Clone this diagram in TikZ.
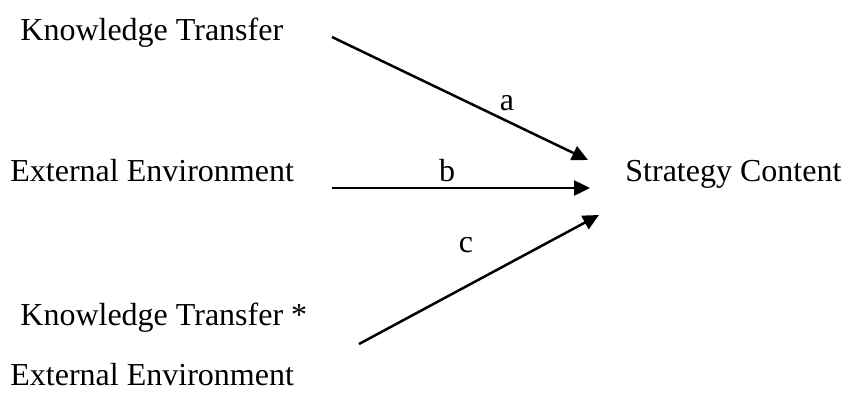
\documentclass[tikz,border=0pt]{standalone}
\usepackage{fontspec}
\setmainfont{Liberation Serif}
\usetikzlibrary{arrows.meta, positioning}
\tikzset{
  varlabel/.style={anchor=base west, inner sep=0pt, font=\fontsize{16}{19}\selectfont},
  pathlabel/.style={anchor=base, inner sep=0pt, font=\fontsize{16}{19}\selectfont},
  effect/.style={line width=1.25pt, -{Triangle[length=8pt, width=7.5pt]}}
}

\begin{document}
\begin{tikzpicture}[x=0.5pt, y=-0.5pt]
    \useasboundingbox (0,0) rectangle (845,396);

    % Variables
    \node[varlabel] (kt) at (20, 40) {Knowledge Transfer};
    \node[varlabel] (ee) at (10, 181) {External Environment};
    \node[varlabel] (sc) at (625, 181) {Strategy Content};
    \node[varlabel] (ktx) at (20, 325) {Knowledge Transfer *};
    \node[varlabel] (eex) at (10, 385) {External Environment};

    % Arrow end points
    \coordinate (kt-out) at (332, 37);
    \coordinate (ee-out) at (332, 188);
    \coordinate (ktx-out) at (359, 344);
    \coordinate (sc-a) at (588, 160);
    \coordinate (sc-b) at (590, 188);
    \coordinate (sc-c) at (599, 215);

    % Paths
    \draw[effect] (kt-out) -- (sc-a);
    \draw[effect] (ee-out) -- (sc-b);
    \draw[effect] (ktx-out) -- (sc-c);

    \node[pathlabel] (a) at (507, 110) {a};
    \node[pathlabel] (b) at (447, 181) {b};
    \node[pathlabel] (c) at (466, 252) {c};
\end{tikzpicture}
\end{document}
